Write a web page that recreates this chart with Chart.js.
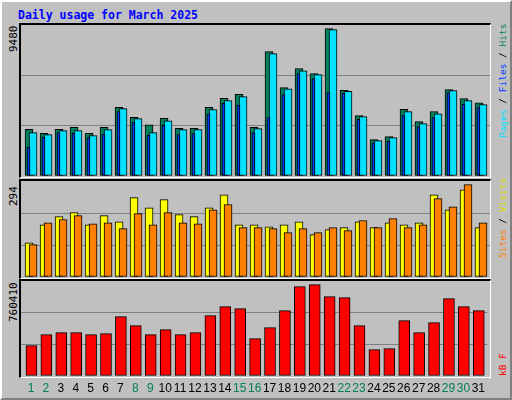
<!DOCTYPE html>
<html>
<head>
<meta charset="utf-8">
<script src="https://cdn.jsdelivr.net/npm/chart.js@4"></script>
<style>
  body { margin: 0; background: #fff; }
  #page { position: absolute; left: 0; top: 0; width: 508px; height: 396px; background: #C0C0C0;
          border-left: 2px solid #fff; border-top: 2px solid #fff; border-right: 2px solid #808080; border-bottom: 2px solid #808080; }
  .box { position: absolute; box-sizing: border-box; border-left: 2px solid #000; border-top: 2px solid #000;
         border-right: 1px solid #fff; border-bottom: 1px solid #fff; }
  canvas { position: absolute; }
  .txt { position: absolute; font-family: "DejaVu Sans Mono", monospace; white-space: nowrap; }
  .rot { transform-origin: left top; transform: rotate(-90deg); }
</style>
</head>
<body>
<div id="page"></div>
<div class="txt" style="left:18px;top:8px;font-size:11.5px;font-weight:bold;color:#0000FF">Daily usage for March 2025</div>
<div class="box" style="left:19px;top:23px;width:472px;height:155px"></div>
<div class="box" style="left:19px;top:179px;width:472px;height:100px"></div>
<div class="box" style="left:19px;top:279px;width:472px;height:99px"></div>
<canvas id="c1" width="469" height="151" style="left:21px;top:25px"></canvas>
<canvas id="c2" width="469" height="96" style="left:21px;top:181px"></canvas>
<canvas id="c3" width="469" height="114" style="left:21px;top:281px"></canvas>
<div class="txt rot" style="left:7px;top:52px;font-size:11px">9480</div>
<div class="txt rot" style="left:7px;top:206px;font-size:11px">294</div>
<div class="txt rot" style="left:7px;top:322px;font-size:11px">760410</div>
<div class="txt rot" style="left:497px;top:138px;font-size:9.5px"><span style="color:#00E0FF">Pages</span> / <span style="color:#0040FF">Files</span> / <span style="color:#00805C">Hits</span></div>
<div class="txt rot" style="left:497px;top:258px;font-size:9.5px"><span style="color:#FF8000">Sites</span> / <span style="color:#E0E000">Visits</span></div>
<div class="txt rot" style="left:497px;top:376px;font-size:9.5px;color:#FF0000">kB F</div>
<script>
const days = Array.from({length: 31}, (_, i) => i + 1);
const weekends = [1, 2, 8, 9, 15, 16, 22, 23, 29, 30];
const hits = [2930, 2680, 2930, 3055, 2680, 3055, 4310, 3680, 3220, 3620, 2990, 2990, 4310, 4880, 5130, 3055,
              7810, 5550, 6740, 6430, 9250, 5380, 3790, 2280, 2470, 4190, 3410, 4040, 5420, 4860, 4600];
const files = [2720, 2600, 2850, 2850, 2530, 2910, 4230, 3600, 2720, 3470, 2910, 2910, 4170, 4730, 4980, 2970,
               7680, 5480, 6610, 6360, 9190, 5320, 3730, 2220, 2410, 4040, 3290, 3910, 5360, 4730, 4480];
const pages = [1800, 2430, 2720, 2680, 2410, 2620, 4040, 3350, 2550, 3180, 2600, 2660, 3910, 4560, 4440, 2720,
               3660, 5110, 6430, 6110, 5230, 5190, 3560, 2090, 2180, 3790, 3100, 3660, 5230, 4500, 4290];
const sites = [105, 160, 185, 197, 160, 188, 169, 243, 212, 237, 191, 185, 212, 252, 160, 160,
               154, 160, 169, 130, 145, 151, 169, 151, 166, 160, 166, 252, 206, 267, 151];
const visits = [99, 166, 176, 188, 163, 166, 148, 194, 160, 197, 166, 163, 206, 222, 151, 151,
                148, 136, 148, 136, 151, 142, 173, 151, 179, 151, 160, 240, 215, 283, 166];
const kbytes = [242800, 330800, 346900, 346900, 330800, 338800, 474900, 402900, 330800, 370900, 330800, 346900, 482900, 555000, 539000, 298800,
                386900, 523000, 715100, 731000, 635000, 627000, 402900, 210800, 218800, 442900, 346900, 426900, 619000, 555000, 523000];
const maxHits = 9480, maxSites = 294, maxKB = 760410;

function pts(vals, off) {
  return vals.map((v, i) => ({x: days[i] + off, y: v}));
}
function bars(vals, off, color, w) {
  return {data: pts(vals, off), backgroundColor: color, borderColor: '#000', borderWidth: 1,
          barThickness: w, borderSkipped: false, grouped: false};
}
function panel(id, sets, max, showDays) {
  new Chart(document.getElementById(id), {
    type: 'bar',
    data: {datasets: sets},
    options: {
      responsive: false, animation: false,
      layout: {padding: 0},
      plugins: {legend: {display: false}, tooltip: {enabled: false}},
      scales: {
        x: {
          type: 'linear', min: 0.33, max: 31.6, offset: false,
          display: showDays,
          grid: {display: false, drawTicks: false}, border: {display: false},
          afterFit: s => { if (showDays) s.height = 19; },
          afterBuildTicks: s => { s.ticks = days.map(d => ({value: d})); },
          ticks: {
            padding: 5, autoSkip: false, maxRotation: 0,
            font: {family: 'Liberation Sans', size: 12},
            color: c => weekends.includes(c.tick.value) ? '#00805C' : '#000',
            callback: v => String(v)
          }
        },
        y: {
          min: 0, max: max, display: true,
          ticks: {display: false, stepSize: max / 3},
          grid: {color: c => (c.index === 1 || c.index === 2) ? '#808080' : 'rgba(0,0,0,0)', lineWidth: 1, drawTicks: false},
          border: {display: false}
        }
      }
    }
  });
}
panel('c1', [
  bars(pages, -0.17, '#0040FF', 3),
  bars(files, 0.133, '#00E0FF', 8),
  bars(hits, -0.133, '#00805C', 8)
], maxHits, false);
panel('c2', [
  bars(visits, 0.133, '#FF8000', 8),
  bars(sites, -0.133, '#FFFF00', 8)
], maxSites, false);
panel('c3', [bars(kbytes, 0.03, '#FF0000', 11)], maxKB, true);
</script>
</body>
</html>
